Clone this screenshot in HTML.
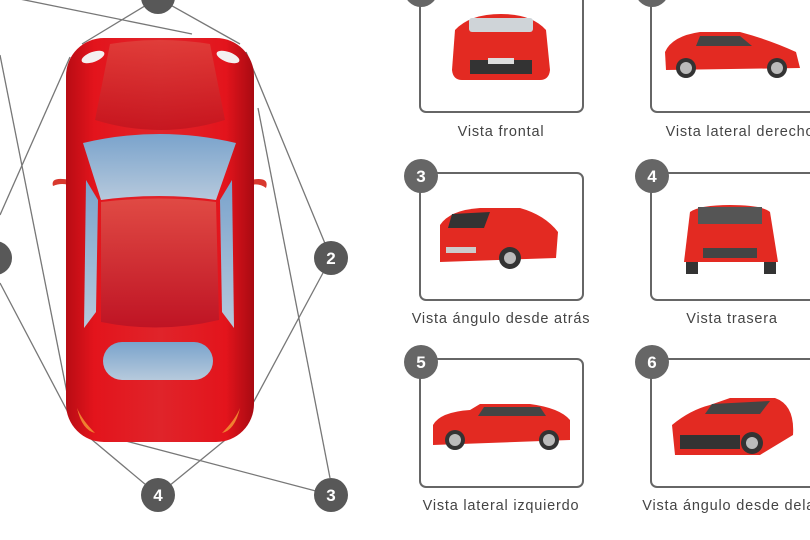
<!DOCTYPE html>
<html><head><meta charset="utf-8"><style>
html,body{margin:0;padding:0;background:#fff;width:810px;height:540px;overflow:hidden}
svg{display:block}
text{font-family:"Liberation Sans",sans-serif}
</style></head><body>
<svg width="810" height="540" viewBox="0 0 810 540" xmlns="http://www.w3.org/2000/svg">
<defs>
<linearGradient id="body" x1="0" y1="0" x2="1" y2="0">
<stop offset="0" stop-color="#b80c14"/><stop offset="0.15" stop-color="#e3141c"/><stop offset="0.5" stop-color="#e0242a"/><stop offset="0.85" stop-color="#e3141c"/><stop offset="1" stop-color="#a80a12"/></linearGradient>
<linearGradient id="hood" x1="0" y1="0" x2="0" y2="1"><stop offset="0" stop-color="#e0443e"/><stop offset="1" stop-color="#c0141e"/></linearGradient>
<linearGradient id="glass" x1="0" y1="0" x2="0" y2="1"><stop offset="0" stop-color="#7aa3cc"/><stop offset="1" stop-color="#b6c9dc"/></linearGradient>
<linearGradient id="roof" x1="0" y1="0" x2="0" y2="1"><stop offset="0" stop-color="#e04a44"/><stop offset="1" stop-color="#bf1424"/></linearGradient>
</defs>
<g stroke="#777" stroke-width="1.3" fill="none">
<line x1="0" y1="-5" x2="192" y2="34"/>
<line x1="158" y1="-2" x2="82" y2="44"/>
<line x1="158" y1="-2" x2="240" y2="44"/>
<line x1="0" y1="55" x2="70" y2="408"/>
<line x1="70" y1="57" x2="0" y2="215"/>
<line x1="0" y1="283" x2="72" y2="420"/>
<line x1="331" y1="258" x2="246" y2="52"/>
<line x1="331" y1="258" x2="245" y2="418"/>
<line x1="258" y1="108" x2="330" y2="478"/>
<line x1="331" y1="495" x2="103" y2="435"/>
<line x1="158" y1="495" x2="78" y2="428"/>
<line x1="158" y1="495" x2="235" y2="432"/>
</g>
<!-- top-view car -->
<path d="M70 180 Q50 176 53 186 Q62 182 72 186Z" fill="#d8382e"/>
<path d="M250 180 Q270 176 266 188 Q258 182 248 186Z" fill="#d8382e"/>
<rect x="66" y="38" width="188" height="404" rx="38" fill="url(#body)"/>
<path d="M110 44 Q160 36 210 44 L225 120 Q160 140 95 120Z" fill="url(#hood)" opacity="0.8"/>
<path d="M83 143 Q160 125 236 143 L216 200 Q160 192 101 200Z" fill="url(#glass)"/>
<path d="M101 202 Q160 195 216 202 L219 320 Q160 334 101 322Z" fill="url(#roof)"/>
<path d="M86 180 L98 200 L96 312 L84 328Z" fill="url(#glass)"/>
<path d="M232 180 L220 200 L222 312 L234 328Z" fill="url(#glass)"/>
<rect x="103" y="342" width="110" height="38" rx="19" fill="url(#glass)"/>
<ellipse cx="93" cy="57" rx="12" ry="5" fill="#f4f0f0" transform="rotate(-20 93 57)"/>
<ellipse cx="228" cy="57" rx="12" ry="5" fill="#f4f0f0" transform="rotate(20 228 57)"/>
<path d="M77 408 Q82 430 95 433 Q82 420 77 408Z" fill="#f08030"/>
<path d="M240 408 Q235 430 222 433 Q235 420 240 408Z" fill="#f08030"/>
<g fill="#585858"><circle cx="158" cy="-3" r="17"/><circle cx="-5" cy="258" r="17"/><circle cx="331" cy="258" r="17"/><circle cx="158" cy="495" r="17"/><circle cx="331" cy="495" r="17"/></g>
<g fill="#fff" font-size="17" font-weight="bold" text-anchor="middle">
<text x="331" y="264">2</text><text x="158" y="501">4</text><text x="331" y="501">3</text></g>
<!-- boxes -->
<g fill="none" stroke="#666" stroke-width="2">
<rect x="420" y="-20" width="163" height="132" rx="6"/>
<rect x="651" y="-20" width="170" height="132" rx="6"/>
<rect x="420" y="173" width="163" height="127" rx="6"/>
<rect x="651" y="173" width="170" height="127" rx="6"/>
<rect x="420" y="359" width="163" height="128" rx="6"/>
<rect x="651" y="359" width="170" height="128" rx="6"/>
</g>
<g fill="#666"><circle cx="421" cy="-10" r="17"/><circle cx="652" cy="-10" r="17"/><circle cx="421" cy="176" r="17"/><circle cx="652" cy="176" r="17"/><circle cx="421" cy="362" r="17"/><circle cx="652" cy="362" r="17"/></g>
<g fill="#fff" font-size="17" font-weight="bold" text-anchor="middle">
<text x="421" y="182">3</text><text x="652" y="182">4</text><text x="421" y="368">5</text><text x="652" y="368">6</text></g>
<!-- car photos simplified -->
<g>
<path d="M455 30 Q470 14 501 14 Q532 14 546 30 L550 70 Q549 80 540 80 L462 80 Q453 80 452 70Z" fill="#e32a22"/>
<rect x="469" y="18" width="64" height="14" rx="3" fill="#cfd4d8"/>
<rect x="470" y="60" width="62" height="14" fill="#333"/>
<rect x="488" y="58" width="26" height="6" fill="#ddd"/>
<path d="M665 52 Q672 36 700 32 L740 32 Q770 40 796 52 L800 68 L666 70Z" fill="#e32a22"/>
<path d="M700 36 L740 36 L752 46 L696 46Z" fill="#444"/>
<circle cx="686" cy="68" r="10" fill="#333"/><circle cx="777" cy="68" r="10" fill="#333"/>
<circle cx="686" cy="68" r="6" fill="#bbb"/><circle cx="777" cy="68" r="6" fill="#bbb"/>
<path d="M440 225 Q450 210 480 208 L520 208 Q545 215 558 232 L556 258 L440 262Z" fill="#e32a22"/>
<path d="M452 214 L490 212 L484 228 L448 228Z" fill="#333"/>
<rect x="446" y="247" width="30" height="6" fill="#ccc"/>
<circle cx="510" cy="258" r="11" fill="#333"/><circle cx="510" cy="258" r="6" fill="#bbb"/>
<path d="M690 212 Q700 205 730 205 Q762 205 770 212 L778 262 L684 262Z" fill="#e32a22"/>
<rect x="698" y="207" width="64" height="17" fill="#555"/>
<rect x="703" y="248" width="54" height="10" fill="#444"/>
<rect x="686" y="262" width="12" height="12" fill="#333"/><rect x="764" y="262" width="12" height="12" fill="#333"/>
<path d="M433 425 Q440 412 470 410 L480 404 L530 404 Q560 408 570 420 L570 440 L433 445Z" fill="#e32a22"/>
<path d="M484 407 L540 407 L546 416 L478 416Z" fill="#444"/>
<circle cx="455" cy="440" r="10" fill="#333"/><circle cx="549" cy="440" r="10" fill="#333"/>
<circle cx="455" cy="440" r="6" fill="#bbb"/><circle cx="549" cy="440" r="6" fill="#bbb"/>
<path d="M672 425 Q690 410 710 405 L730 398 L775 398 Q795 405 793 435 L760 455 L675 455Z" fill="#e32a22"/>
<path d="M712 404 L770 401 L760 414 L705 414Z" fill="#444"/>
<rect x="680" y="435" width="60" height="14" fill="#333"/>
<circle cx="752" cy="443" r="11" fill="#333"/><circle cx="752" cy="443" r="6" fill="#bbb"/>
</g>
<g fill="#444" font-size="14.5" text-anchor="middle" letter-spacing="0.8">
<text x="501" y="136">Vista frontal</text>
<text x="740" y="136">Vista lateral derecho</text>
<text x="501" y="323">Vista ángulo desde atrás</text>
<text x="732" y="323">Vista trasera</text>
<text x="501" y="510">Vista lateral izquierdo</text>
<text x="740" y="510">Vista ángulo desde delante</text>
</g>
</svg>
</body></html>
